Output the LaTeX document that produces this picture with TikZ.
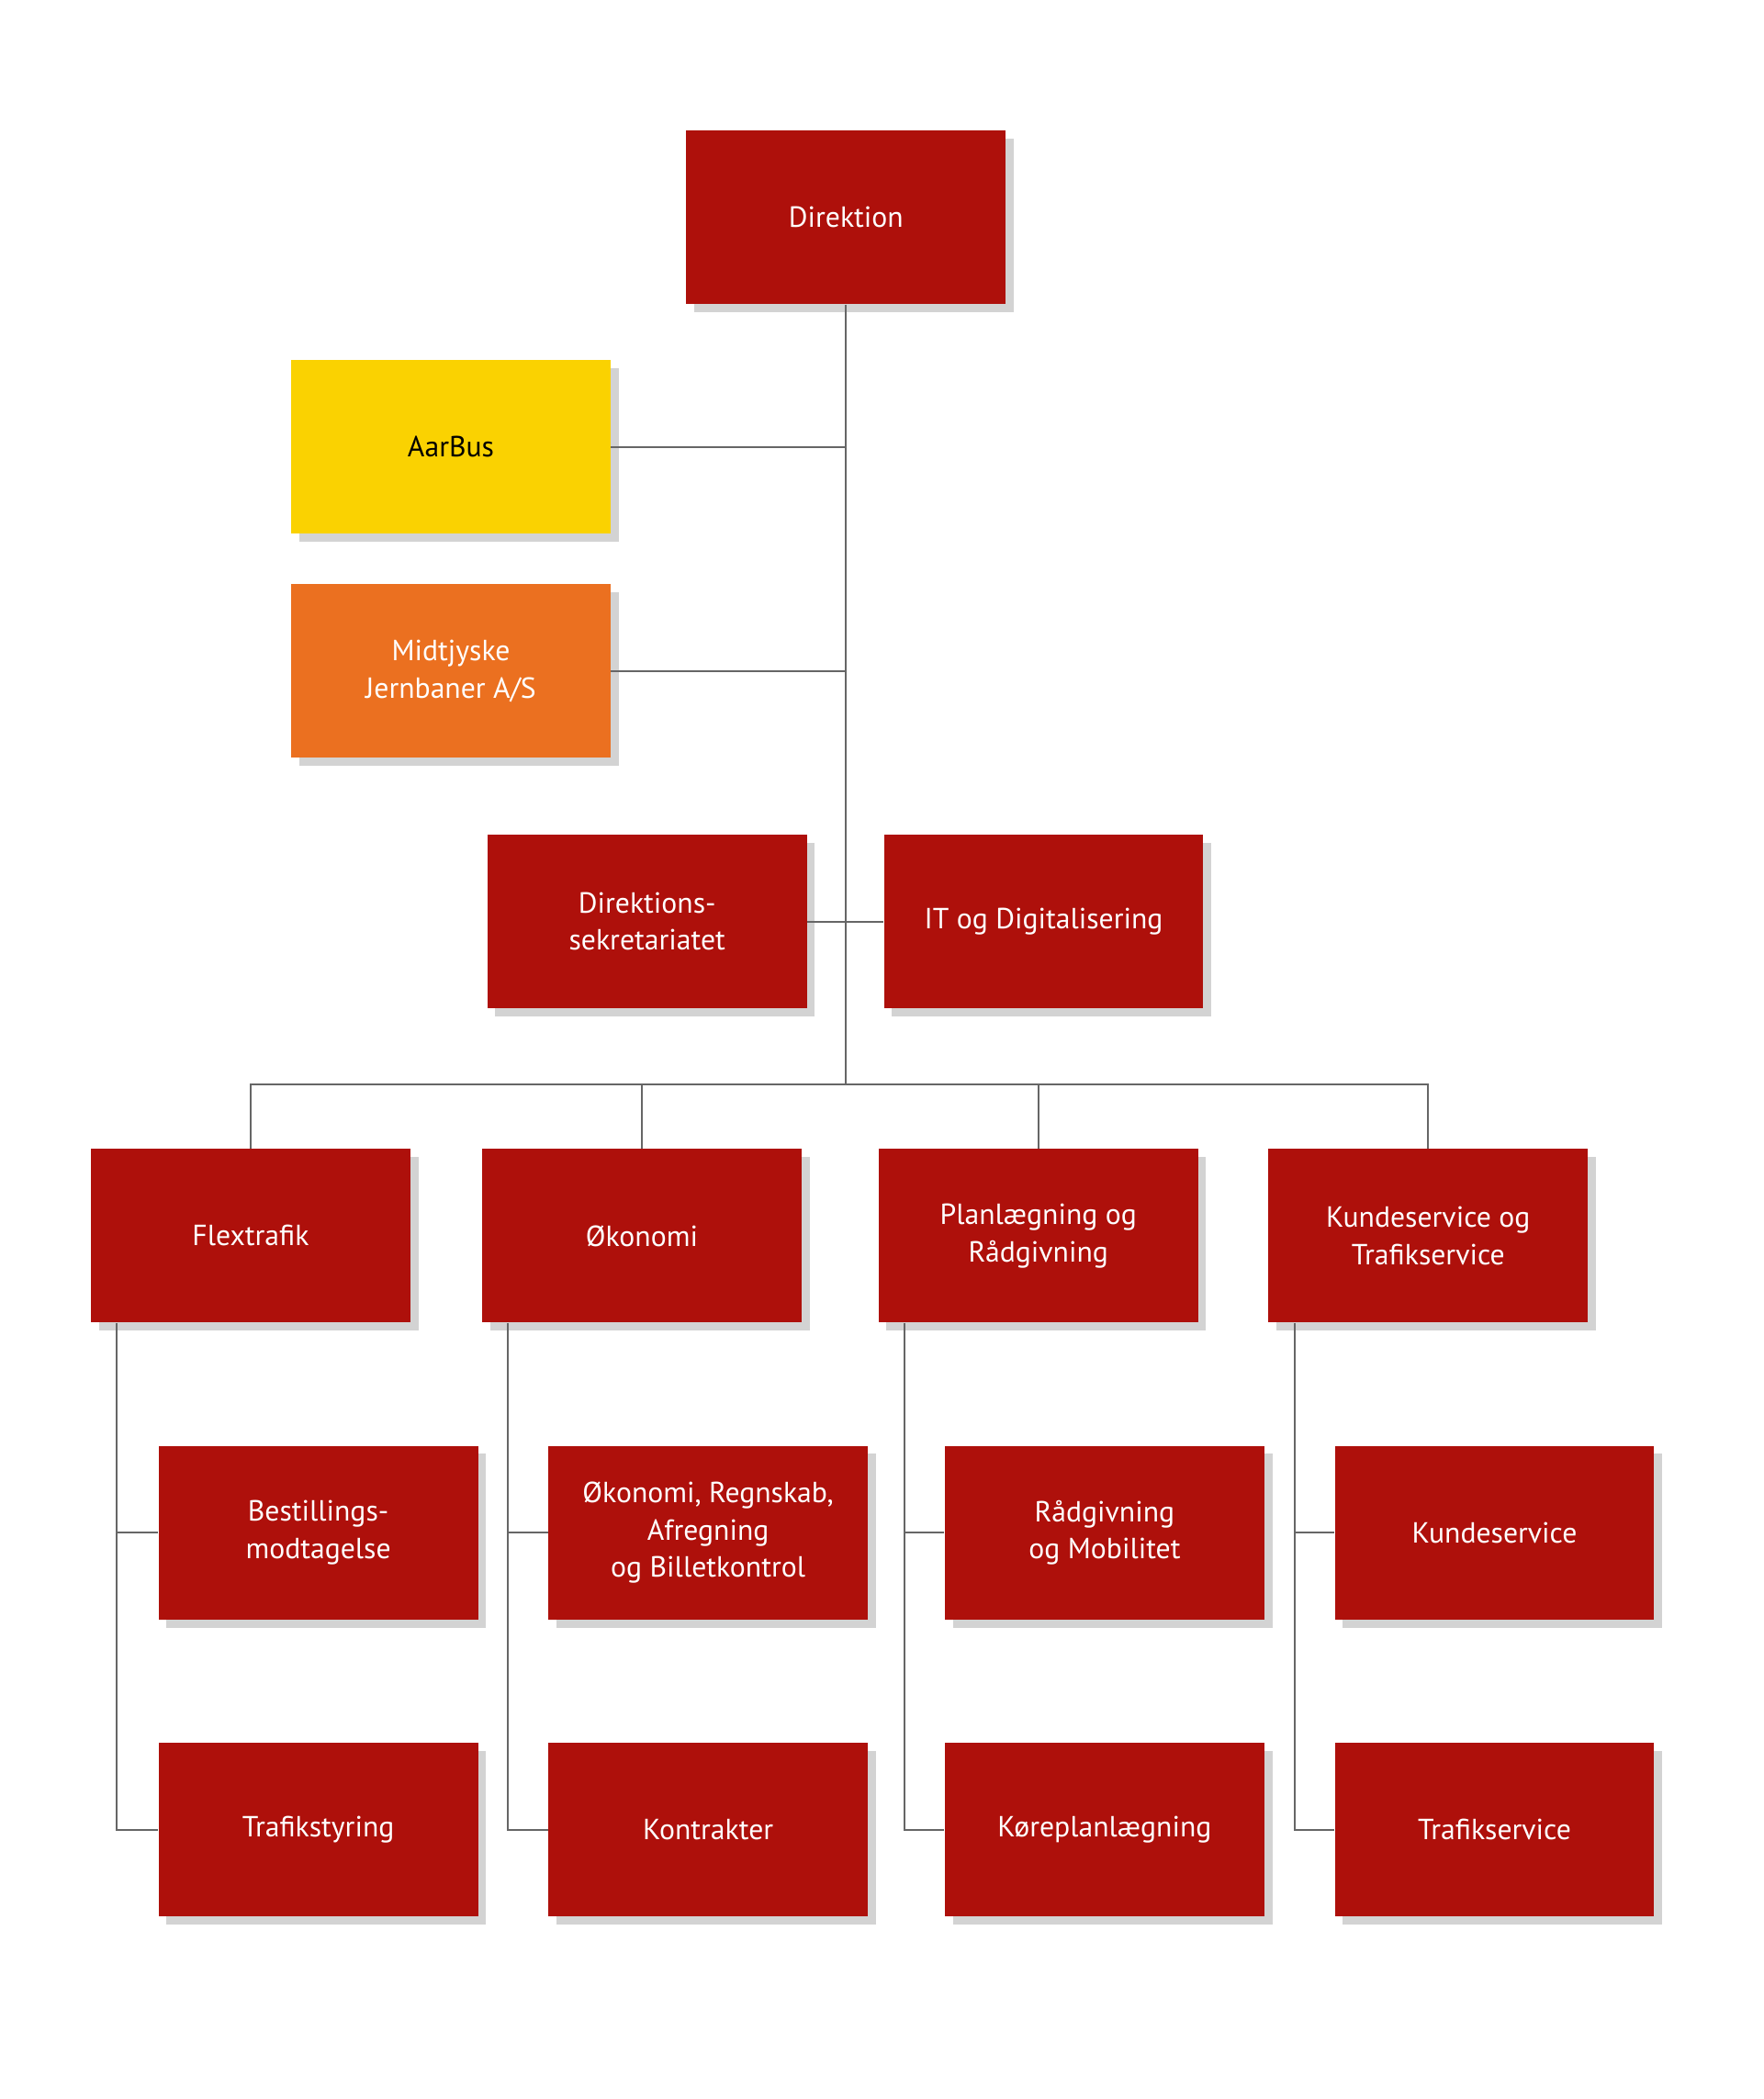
\documentclass[tikz,border=0pt]{standalone}
\usepackage{fontspec}
\setmainfont{PT Sans}
\usetikzlibrary{shadows,calc}
\definecolor{midtred}{HTML}{AE100B}
\definecolor{aaryellow}{HTML}{FAD201}
\definecolor{mjorange}{HTML}{EB7020}
\tikzstyle{enhed}=[fill=midtred, text=white, minimum width=4.82cm, minimum height=2.62cm,
  align=center, font=\fontsize{12.5}{16}\selectfont,
  drop shadow={shadow xshift=0.12cm, shadow yshift=-0.12cm, opacity=0.35}]
\tikzstyle{linje}=[draw=black!60, line width=0.8pt]
\newcommand{\enhed}[3]{node (#1) [enhed] at #2 {#3}}

\begin{document}
\begin{tikzpicture}[x={(0.02cm,0)}, y={(0,-0.02cm)}]
  \useasboundingbox (0,0) rectangle (1330,1583);
  \path \enhed{dir}{(638,164)}{Direktion};
  \path (340,337) node (aar) [enhed, fill=aaryellow, text=black] {AarBus};
  \path (340,506) node (mj) [enhed, fill=mjorange] {Midtjyske\\Jernbaner A/S};
  \path \enhed{sek}{(488,695)}{Direktions-\\sekretariatet};
  \path \enhed{it}{(787,695)}{IT og Digitalisering};

  % afdelinger
  \path \enhed{flex}{(189,932)}{Flextrafik};
  \path \enhed{oko}{(484,932)}{Økonomi};
  \path \enhed{plan}{(783,932)}{Planlægning og\\Rådgivning};
  \path \enhed{kunde}{(1077,932)}{Kundeservice og\\Trafikservice};

  \path \enhed{best}{(240,1156)}{Bestillings-\\modtagelse};
  \path \enhed{trst}{(240,1380)}{Trafikstyring};
  \path \enhed{regn}{(534,1156)}{Økonomi, Regnskab,\\Afregning\\og Billetkontrol};
  \path \enhed{kontr}{(534,1380)}{Kontrakter};
  \path \enhed{radg}{(833,1156)}{Rådgivning\\og Mobilitet};
  \path \enhed{kore}{(833,1380)}{Køreplanlægning};
  \path \enhed{ks}{(1127,1156)}{Kundeservice};
  \path \enhed{ts}{(1127,1380)}{Trafikservice};

  \coordinate (bus) at (638,818);
  \draw[linje] (dir.south) -- (bus);
  \draw[linje] (aar.east) -- (aar.east -| dir.south);
  \draw[linje] (mj.east) -- (mj.east -| dir.south);
  \draw[linje] (sek.east) -- (it.west);
  \draw[linje] (flex.north) |- (bus) -| (kunde.north);
  \draw[linje] (oko.north) -- (oko.north |- bus);
  \draw[linje] (plan.north) -- (plan.north |- bus);

  \foreach \afd/\a/\b in {flex/best/trst, oko/regn/kontr, plan/radg/kore, kunde/ks/ts}{
    \coordinate (s\afd) at ($(\afd.south west)+(20,0)$);
    \draw[linje] (s\afd) |- (\b.west);
    \draw[linje] (\a.west) -- (\a.west -| s\afd);
  }
\end{tikzpicture}
\end{document}
